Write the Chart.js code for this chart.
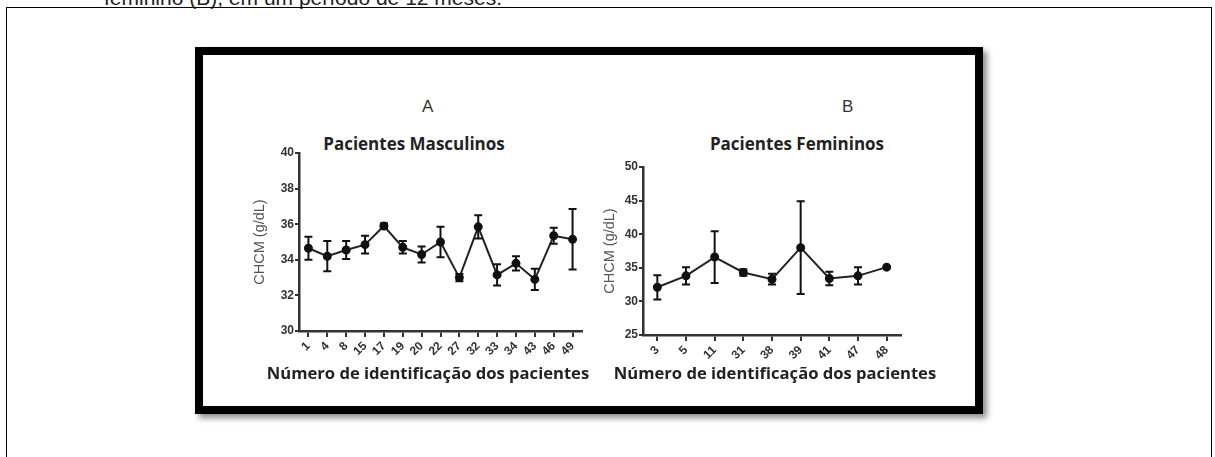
<!DOCTYPE html>
<html>
<head>
<meta charset="utf-8">
<script src="https://cdn.jsdelivr.net/npm/chart.js@4.4.0/dist/chart.umd.min.js"></script>
<style>
  body { margin: 0; background: #fff; width: 1215px; height: 457px; overflow: hidden; position: relative; font-family: "Liberation Sans", Arial, sans-serif; }
  #caption { position: absolute; left: 104px; top: -14px; font-size: 21px; line-height: 24px; color: #222; white-space: nowrap; }
  #outer { position: absolute; left: 6px; top: 7px; width: 1206px; height: 470px; border: 1.5px solid #000; box-sizing: border-box; }
  #frame { position: absolute; left: 195px; top: 47px; width: 788px; height: 367px; border: 8px solid #000; box-sizing: border-box; box-shadow: 4px 4px 6px rgba(0,0,0,0.45); background: #fff; }
  .letter { position: absolute; font-size: 17px; color: #333; line-height: 20px; }
  .painel { position: absolute; width: 240px; text-align: center; font-family: "Open Sans", sans-serif; font-weight: bold; font-size: 17px; line-height: 20px; color: #222; }
  .eixo { position: absolute; width: 400px; text-align: center; font-family: "Open Sans", sans-serif; font-weight: bold; font-size: 16.6px; line-height: 22px; color: #222; white-space: nowrap; }
  .box { position: absolute; }
</style>
</head>
<body>
<div id="caption">feminino (B), em um período de 12 meses.</div>
<div id="outer"></div>
<div id="frame"></div>
<div class="letter" style="left:422px;top:97px">A</div>
<div class="letter" style="left:842px;top:97px">B</div>
<div class="painel" style="left:294px;top:134px">Pacientes Masculinos</div>
<div class="painel" style="left:677px;top:134px">Pacientes Femininos</div>
<div class="box" style="left:205px;top:56px;width:418px;height:344px"><canvas id="chartA"></canvas></div>
<div class="box" style="left:595px;top:56px;width:414px;height:344px"><canvas id="chartB"></canvas></div>
<div class="eixo" style="left:228px;top:362px">Número de identificação dos pacientes</div>
<div class="eixo" style="left:575px;top:362px">Número de identificação dos pacientes</div>

<script>
// dados - pacientes masculinos (A)
var pacientesA = ['1', '4', '8', '15', '17', '19', '20', '22', '27', '32', '33', '34', '43', '46', '49'];
var mediaA = [34.65, 34.2, 34.55, 34.85, 35.9, 34.7, 34.3, 35.0, 33.0, 35.85, 33.15, 33.8, 32.9, 35.35, 35.15];
var erroA = [0.65, 0.85, 0.5, 0.5, 0.15, 0.35, 0.45, 0.85, 0.2, 0.65, 0.6, 0.4, 0.6, 0.45, 1.7];
var ticksA = [30, 32, 34, 36, 38, 40];

// dados - pacientes femininos (B)
var pacientesB = ['3', '5', '11', '31', '38', '39', '41', '47', '48'];
var mediaB = [32.1, 33.8, 36.6, 34.3, 33.3, 38.0, 33.4, 33.8, 35.1];
var erroB = [1.8, 1.3, 3.85, 0.5, 0.8, 6.9, 1.0, 1.3, 0];
var ticksB = [25, 30, 35, 40, 45, 50];

var errorBarPlugin = {
    id: 'errorBars',
    afterDatasetsDraw: function (chart) {
        var ctx = chart.ctx;
        var yScale = chart.scales.y;
        chart.data.datasets.forEach(function (ds, i) {
            if (!ds.errors) return;
            var meta = chart.getDatasetMeta(i);
            ctx.save();
            ctx.strokeStyle = '#111';
            ctx.lineWidth = 2;
            meta.data.forEach(function (pt, j) {
                var e = ds.errors[j];
                if (!e) return;
                var top = yScale.getPixelForValue(ds.data[j] + e);
                var bottom = yScale.getPixelForValue(ds.data[j] - e);
                ctx.beginPath();
                ctx.moveTo(pt.x, top);
                ctx.lineTo(pt.x, bottom);
                ctx.moveTo(pt.x - 4, top);
                ctx.lineTo(pt.x + 4, top);
                ctx.moveTo(pt.x - 4, bottom);
                ctx.lineTo(pt.x + 4, bottom);
                ctx.stroke();
            });
            ctx.restore();
        });
    }
};

function makeChart(id, labels, values, errors, ticks, cfg) {
    var ctx = document.getElementById(id).getContext('2d');
    return new Chart(ctx, {
        type: 'line',
        data: {
            labels: labels,
            datasets: [{
                data: values,
                errors: errors,
                borderColor: '#222',
                borderWidth: 2,
                pointRadius: 3.5,
                pointBackgroundColor: '#111',
                pointBorderColor: '#111',
                tension: 0
            }]
        },
        options: {
            responsive: true,
            maintainAspectRatio: false,
            animation: false,
            layout: { padding: { left: 0, right: cfg.padRight, top: cfg.padTop, bottom: 0 } },
            plugins: {
                legend: { display: false },
                tooltip: { enabled: false },
                title: { display: false }
            },
            scales: {
                x: {
                    offset: true,
                    grid: { display: true, drawOnChartArea: false, drawTicks: true, tickLength: 6, color: '#333', lineWidth: 2 },
                    border: { display: true, color: '#333', width: 2.5 },
                    ticks: {
                        color: '#333',
                        font: { family: 'Liberation Sans', size: 12, weight: 'bold' },
                        minRotation: 45,
                        maxRotation: 45,
                        padding: 2,
                        autoSkip: false
                    },
                    afterFit: function (s) { s.height = cfg.xHeight; }
                },
                y: {
                    min: ticks[0],
                    max: ticks[ticks.length - 1],
                    grid: { display: true, drawOnChartArea: false, drawTicks: true, tickLength: 4, color: '#333', lineWidth: 2 },
                    border: { display: true, color: '#333', width: 2.5 },
                    ticks: {
                        stepSize: ticks[1] - ticks[0],
                        color: '#333',
                        font: { family: 'Liberation Sans', size: 12, weight: 'bold' },
                        padding: 1
                    },
                    title: {
                        display: true,
                        text: 'CHCM (g/dL)',
                        color: '#555',
                        font: { family: 'Liberation Sans', size: 14.5 },
                        padding: { top: cfg.yTitlePad, bottom: 0 }
                    },
                    afterFit: function (s) { s.width = cfg.yWidth; }
                }
            }
        },
        plugins: [errorBarPlugin]
    });
}

makeChart('chartA', pacientesA, mediaA, erroA, ticksA, {
    padTop: 97, padRight: 41, yWidth: 94, xHeight: 69, yTitlePad: 46
});
makeChart('chartB', pacientesB, mediaB, erroB, ticksB, {
    padTop: 111, padRight: 108, yWidth: 48, xHeight: 65, yTitlePad: 6
});
</script>
</body>
</html>
